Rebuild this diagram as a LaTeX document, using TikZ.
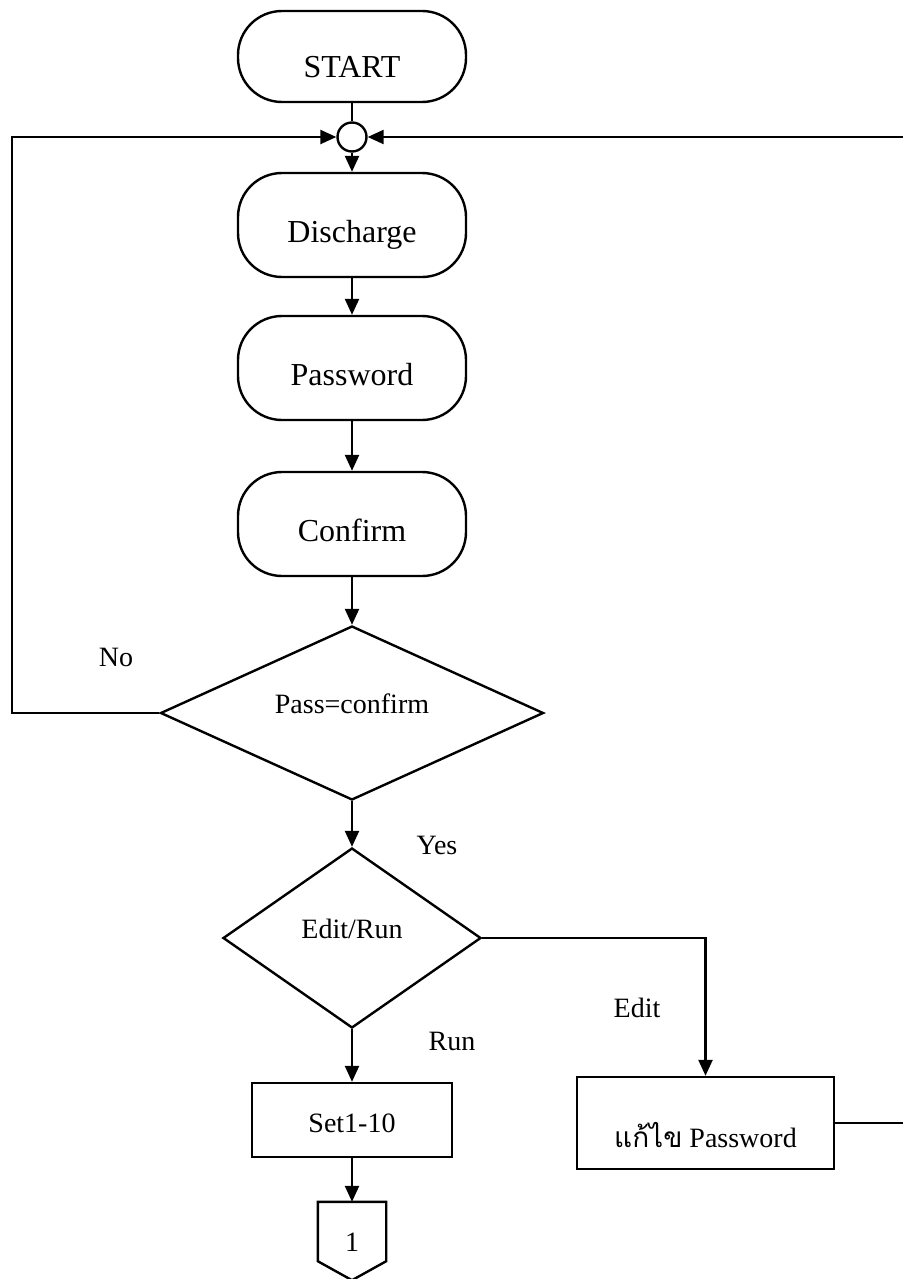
\documentclass[tikz,border=0pt]{standalone}
\usepackage{fontspec}
\setmainfont{Liberation Serif}
\newfontfamily\thaifont[Script=Thai]{Loma}
\usetikzlibrary{shapes.geometric,arrows.meta,calc}

\begin{document}
\begin{tikzpicture}[x=0.5pt,y=-0.5pt,line width=1.2pt,
  arr/.style={-{Triangle[length=8pt,width=7pt]}},
  bigtxt/.style={font=\fontsize{16}{19}\selectfont},
  smalltxt/.style={font=\fontsize{14}{17}\selectfont},
  roundbox/.style={draw,rounded corners=22pt,minimum width=114pt,inner sep=0pt,
    text height=34.75pt,text depth=17.25pt,bigtxt},
  decision/.style={draw,diamond,inner sep=0pt,text height=1pt,text depth=1pt,smalltxt},
  procbox/.style={draw,rectangle,inner sep=0pt,smalltxt},
  lbl/.style={inner sep=0pt,smalltxt}]
\useasboundingbox (0,0) rectangle (903,1279);

   % main column
   \node[roundbox,text height=33.25pt,text depth=12.25pt] (start) at (352,56.5) {START};
   \node[draw,circle,minimum size=14.5pt,inner sep=0pt] (jn) at (352,137) {};
   \node[roundbox] (dis) at (352,225) {Discharge};
   \node[roundbox] (pwd) at (352,368) {Password};
   \node[roundbox] (cnf) at (352,524) {Confirm};
   \node[decision,minimum width=191.5pt,minimum height=87pt] (chk) at (352,713) {Pass=confirm};
   \node[decision,minimum width=129pt,minimum height=90pt] (mode) at (352,938) {Edit/Run};
   \node[procbox,minimum width=100pt,text height=24.5pt,text depth=12.5pt] (set) at (352,1120) {Set1-10};
   \node[smalltxt,minimum width=33pt,inner sep=0pt,text height=24.25pt,text depth=4.25pt] (c1) at (352,1231.5) {1};
   \draw (c1.north west) -- (c1.north east) -- (c1.south east) -- ($(c1.south)+(0,19)$) -- (c1.south west) -- cycle;

   % edit branch
   \node[procbox,minimum width=128.5pt,text height=35pt,text depth=11pt] (edt) at (705.5,1123) {{\thaifont แก้ไข} Password};

   \coordinate (lft) at (12,713);
   \coordinate (rgt) at (910,1120);

   \draw (start) -- (jn);
   \draw[arr] (jn) -- (dis);
   \draw[arr] (dis) -- (pwd);
   \draw[arr] (pwd) -- (cnf);
   \draw[arr] (cnf) -- (chk);
   \draw[arr] (chk) -- (mode);
   \draw[arr] (mode) -- (set);
   \draw[arr] (set) -- (c1);
   \draw[arr] (chk) -- (lft) |- (jn);
   \draw[arr] (mode) -| (edt);
   \draw[arr] (edt.east) -- (edt.east -| rgt) |- (jn);

   % labels
   \node[lbl] (no) at (116,657) {No};
   \node[lbl] (yes) at (437,845) {Yes};
   \node[lbl] (edit) at (637,1008) {Edit};
   \node[lbl] (run) at (452,1041) {Run};

\end{tikzpicture}
\end{document}
